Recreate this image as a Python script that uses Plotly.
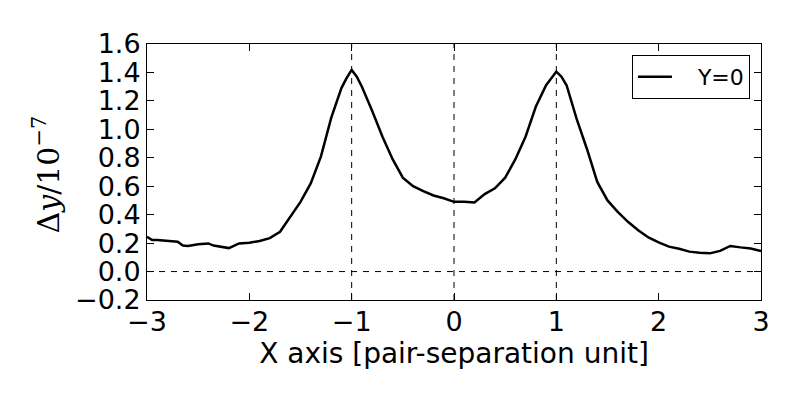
import plotly.graph_objects as go

# separation along X (pair-separation units) and displacement (units of 1e-7)
x_pos = [-3.0, -2.95, -2.9, -2.8, -2.7, -2.65, -2.6, -2.5, -2.4, -2.35, -2.3, -2.2,
         -2.1, -2.0, -1.9, -1.8, -1.7, -1.6, -1.5, -1.4, -1.3, -1.2, -1.1, -1.05,
         -1.0, -0.95, -0.9, -0.8, -0.7, -0.6, -0.5, -0.45, -0.4, -0.3, -0.2, -0.1,
         0.0, 0.1, 0.2, 0.3, 0.4, 0.5, 0.6, 0.7, 0.8, 0.9, 1.0, 1.05, 1.1, 1.2,
         1.3, 1.4, 1.5, 1.6, 1.7, 1.8, 1.9, 2.0, 2.1, 2.2, 2.3, 2.4, 2.5, 2.6,
         2.7, 2.8, 2.9, 3.0]
delta_y = [0.245, 0.222, 0.222, 0.218, 0.21, 0.183, 0.180, 0.192, 0.198, 0.183, 0.178, 0.165,
           0.198, 0.203, 0.215, 0.235, 0.28, 0.385, 0.49, 0.62, 0.81, 1.08, 1.29, 1.36,
           1.418, 1.37, 1.30, 1.13, 0.95, 0.79, 0.66, 0.63, 0.60, 0.565, 0.535, 0.515,
           0.49, 0.49, 0.485, 0.545, 0.585, 0.66, 0.79, 0.95, 1.16, 1.31, 1.406, 1.37, 1.31, 1.07,
           0.86, 0.63, 0.50, 0.42, 0.35, 0.29, 0.24, 0.205, 0.175, 0.16, 0.14, 0.132, 0.128, 0.145,
           0.18, 0.17, 0.162, 0.145]
v_marks = [-1, 0, 1]

FONT = "DejaVu Sans"

fig = go.Figure()
fig.add_trace(go.Scatter(
    x=x_pos, y=delta_y, mode="lines", name="\u00a0\u00a0\u00a0Y=0",
    line=dict(color="black", width=2.5)
))

for xv in v_marks:
    fig.add_shape(type="line", xref="x", yref="paper", x0=xv, x1=xv, y0=0, y1=1,
                  line=dict(color="black", width=1, dash="6px,6px"))
fig.add_shape(type="line", xref="paper", yref="y", x0=0, x1=1, y0=0, y1=0,
              line=dict(color="black", width=1, dash="6px,6px"))

fig.add_annotation(
    text="Δ<i>y</i>/10<sup>−7</sup>", textangle=-90, showarrow=False,
    xref="paper", yref="paper", x=-0.163, y=0.49, xanchor="center", yanchor="middle",
    font=dict(family="DejaVu Serif", size=30, color="black")
)

axis_style = dict(
    showline=True, linecolor="black", linewidth=1, mirror="allticks",
    ticks="inside", ticklen=7, tickcolor="black", showgrid=False, zeroline=False,
    tickfont=dict(family=FONT, size=27, color="black")
)

fig.update_xaxes(range=[-3, 3], dtick=1, tick0=-3, ticklabelstandoff=-2,
                 title=dict(text="X axis [pair-separation unit]",
                            font=dict(family=FONT, size=28, color="black"), standoff=0),
                 **axis_style)
fig.update_yaxes(range=[-0.2, 1.6], dtick=0.2, tick0=-0.2, tickformat=".1f", **axis_style)

fig.update_layout(
    width=800, height=400,
    margin=dict(l=139, r=47, t=36, b=108),
    paper_bgcolor="white", plot_bgcolor="white",
    showlegend=True,
    legend=dict(x=0.982, y=0.957, xanchor="right", yanchor="top",
                bordercolor="black", borderwidth=1, bgcolor="white",
                itemwidth=34,
                font=dict(family=FONT, size=22, color="black")),
)

fig.write_html("out.html")
